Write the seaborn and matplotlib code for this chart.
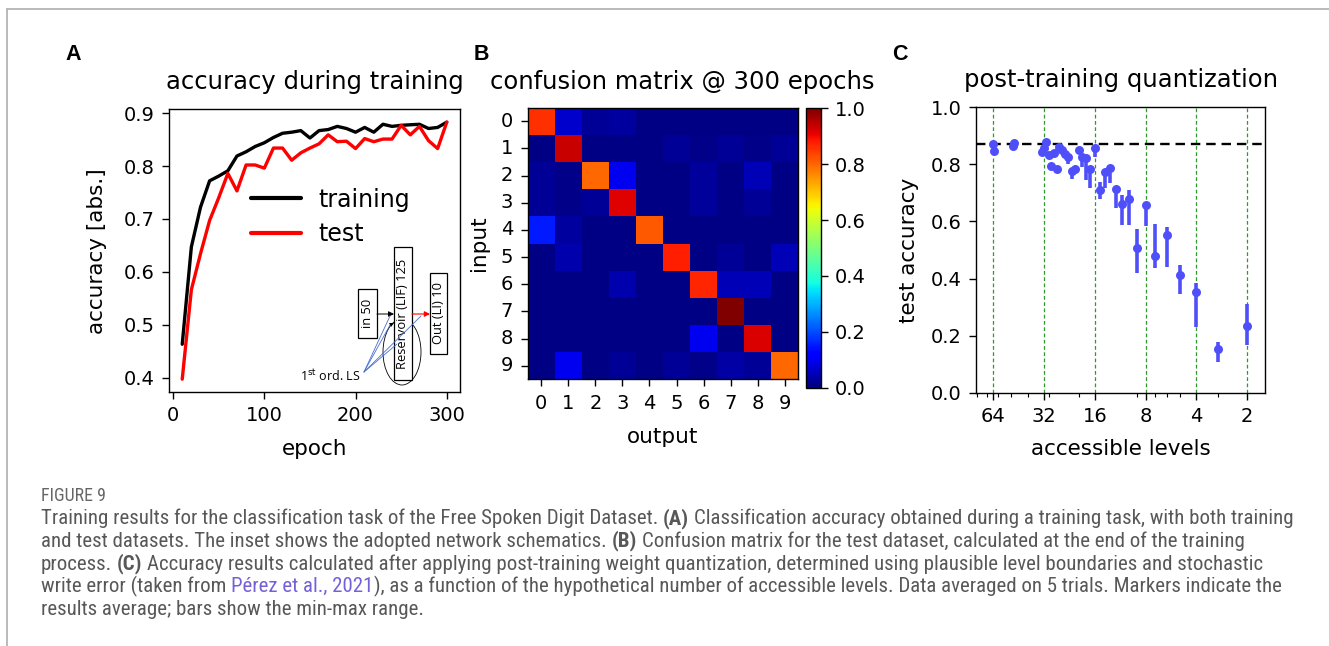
import numpy as np
import pandas as pd
import matplotlib
matplotlib.use("Agg")
import matplotlib.pyplot as plt
import seaborn as sns
from matplotlib import font_manager
from matplotlib.patches import Rectangle, Ellipse, FancyArrowPatch
from matplotlib.lines import Line2D
from matplotlib.ticker import NullFormatter

# ---------------- data ----------------
epochs = list(range(10, 301, 10))
acc_train = [0.463, 0.647, 0.722, 0.772, 0.781, 0.791, 0.819, 0.827, 0.837, 0.844,
             0.854, 0.862, 0.864, 0.867, 0.853, 0.867, 0.869, 0.875, 0.871, 0.864,
             0.873, 0.864, 0.879, 0.875, 0.877, 0.878, 0.879, 0.871, 0.873, 0.883]
acc_test = [0.397, 0.566, 0.634, 0.697, 0.740, 0.786, 0.753, 0.802, 0.802, 0.796,
            0.834, 0.834, 0.811, 0.825, 0.834, 0.842, 0.859, 0.846, 0.847, 0.833,
            0.852, 0.846, 0.851, 0.851, 0.877, 0.859, 0.875, 0.848, 0.833, 0.883]
series_names = ["training", "test"]

digits = list(range(10))
cm_row0 = [0.856, 0.070, 0.020, 0.030, 0.004, 0.004, 0.004, 0.004, 0.004, 0.004]
cm_row1 = [0.004, 0.934, 0.004, 0.004, 0.004, 0.020, 0.010, 0.020, 0.010, 0.020]
cm_row2 = [0.020, 0.010, 0.800, 0.100, 0.004, 0.004, 0.025, 0.004, 0.050, 0.004]
cm_row3 = [0.020, 0.010, 0.020, 0.916, 0.004, 0.004, 0.025, 0.004, 0.020, 0.004]
cm_row4 = [0.150, 0.030, 0.004, 0.004, 0.815, 0.004, 0.004, 0.004, 0.004, 0.004]
cm_row5 = [0.004, 0.040, 0.004, 0.004, 0.004, 0.878, 0.004, 0.020, 0.004, 0.050]
cm_row6 = [0.004, 0.004, 0.004, 0.040, 0.004, 0.004, 0.870, 0.050, 0.050, 0.004]
cm_row7 = [0.004, 0.004, 0.004, 0.004, 0.004, 0.004, 0.004, 1.000, 0.004, 0.004]
cm_row8 = [0.004, 0.004, 0.004, 0.004, 0.004, 0.004, 0.100, 0.004, 0.920, 0.004]
cm_row9 = [0.004, 0.100, 0.004, 0.020, 0.004, 0.020, 0.010, 0.035, 0.020, 0.800]

levels = [64, 63, 49, 48, 33, 32, 31, 30, 29, 28, 27, 26, 25, 24, 23, 22, 21, 20,
          19, 18, 17, 16, 15, 14, 13, 12, 11, 10, 9, 8, 7, 6, 5, 4, 3, 2]
q_mean = [0.872, 0.847, 0.865, 0.875, 0.845, 0.858, 0.877, 0.833, 0.795, 0.840,
          0.783, 0.860, 0.850, 0.838, 0.825, 0.778, 0.783, 0.850, 0.826, 0.821,
          0.783, 0.856, 0.710, 0.772, 0.786, 0.713, 0.661, 0.680, 0.506, 0.658,
          0.479, 0.553, 0.412, 0.353, 0.154, 0.234]
q_lo = [0.865, 0.840, 0.860, 0.870, 0.835, 0.850, 0.870, 0.825, 0.785, 0.830,
        0.775, 0.850, 0.840, 0.825, 0.800, 0.750, 0.775, 0.840, 0.792, 0.746,
        0.716, 0.827, 0.680, 0.716, 0.734, 0.646, 0.588, 0.588, 0.418, 0.583,
        0.436, 0.439, 0.346, 0.229, 0.109, 0.166]
q_hi = [0.878, 0.855, 0.870, 0.880, 0.850, 0.865, 0.885, 0.840, 0.800, 0.845,
        0.790, 0.865, 0.855, 0.845, 0.835, 0.785, 0.790, 0.858, 0.833, 0.830,
        0.790, 0.862, 0.740, 0.780, 0.795, 0.720, 0.693, 0.710, 0.572, 0.665,
        0.590, 0.579, 0.447, 0.383, 0.176, 0.310]
baseline_acc = 0.87
level_ticks = [64, 32, 16, 8, 4, 2]

caption_head = "FIGURE 9"
caption_lines = [
    [("Training results for the classification task of the Free Spoken Digit Dataset.", "n", False),
     ("(A)", "b", True),
     ("Classification accuracy obtained during a training task, with both training", "n", True)],
    [("and test datasets. The inset shows the adopted network schematics.", "n", False),
     ("(B)", "b", True),
     ("Confusion matrix for the test dataset, calculated at the end of the training", "n", True)],
    [("process.", "n", False), ("(C)", "b", True),
     ("Accuracy results calculated after applying post-training weight quantization, determined using plausible level boundaries and stochastic", "n", True)],
    [("write error (taken from", "n", False), ("Pérez et al., 2021", "l", True),
     ("), as a function of the hypothetical number of accessible levels. Data averaged on 5 trials. Markers indicate the", "n", False)],
    [("results average; bars show the min-max range.", "n", False)],
]

# ---------------- style ----------------
W, H = 1329, 646
sns.set_theme(style="ticks")
plt.rcParams["font.family"] = ["DejaVu Sans"]
plt.rcParams.update({
    "axes.edgecolor": "black", "axes.linewidth": 1.0,
    "text.color": "black", "axes.labelcolor": "black",
    "xtick.color": "black", "ytick.color": "black",
    "xtick.major.size": 5, "ytick.major.size": 5,
    "xtick.minor.size": 3, "ytick.minor.size": 3,
    "xtick.major.width": 1.0, "ytick.major.width": 1.0,
    "xtick.minor.width": 0.8,
    "xtick.major.pad": 5.0, "ytick.major.pad": 5.5,
    "xtick.labelsize": 14, "ytick.labelsize": 14,
    "axes.facecolor": "white", "figure.facecolor": "white",
})

fig = plt.figure(figsize=(W / 100, H / 100), dpi=100)


def rect(l, t, r, b):
    return [l / W, 1 - b / H, (r - l) / W, (b - t) / H]


TITLE_FS = 17.5
LABEL_FS = 15.5

# ---------------- panel A ----------------
axA = fig.add_axes(rect(169, 109.3, 460, 392))
dfA = pd.DataFrame({
    "epoch": epochs * 2,
    "accuracy": acc_train + acc_test,
    "set": [series_names[0]] * len(epochs) + [series_names[1]] * len(epochs),
})
sns.lineplot(data=dfA, x="epoch", y="accuracy", hue="set", hue_order=series_names,
             palette={"training": "black", "test": "red"}, linewidth=2.4, ax=axA)
handles, labels = axA.get_legend_handles_labels()
axA.legend(handles, labels, loc="center left", frameon=False, fontsize=17,
           bbox_to_anchor=(251 / W, 1 - 217 / H), bbox_transform=fig.transFigure,
           borderpad=0, borderaxespad=0, handlelength=2.1, handletextpad=0.75,
           labelspacing=0.45)
for lh in axA.get_legend().get_lines():
    lh.set_linewidth(3)
axA.set_xticks([0, 100, 200, 300])
axA.set_yticks([0.4, 0.5, 0.6, 0.7, 0.8, 0.9])
axA.set_xlabel("epoch", fontsize=LABEL_FS, labelpad=10.5)
axA.set_ylabel("accuracy [abs.]", fontsize=LABEL_FS, labelpad=12)
axA.set_title("accuracy during training", fontsize=TITLE_FS, pad=14.5)

# ---------------- panel B ----------------
cm = np.array([cm_row0, cm_row1, cm_row2, cm_row3, cm_row4,
               cm_row5, cm_row6, cm_row7, cm_row8, cm_row9])
axB = fig.add_axes(rect(527.7, 107.7, 798.3, 379.3))
cax = fig.add_axes(rect(806, 108.3, 820.7, 387.7))
sns.heatmap(cm, cmap="jet", vmin=0, vmax=1, ax=axB, cbar_ax=cax,
            xticklabels=digits, yticklabels=digits, linewidths=0)
axB.set_position(rect(527.7, 107.7, 798.3, 379.3))
for s in axB.spines.values():
    s.set_visible(True)
    s.set_linewidth(1.0)
    s.set_color("black")
axB.tick_params(axis="x", length=5, width=1, labelsize=14, pad=5.5)
axB.tick_params(axis="y", length=5, width=1, labelsize=14, pad=5.5)
plt.setp(axB.get_yticklabels(), rotation=0)
plt.setp(axB.get_xticklabels(), rotation=0)
axB.set_xlabel("output", fontsize=LABEL_FS, labelpad=10)
axB.set_ylabel("input", fontsize=LABEL_FS, labelpad=8.5)
axB.set_title("confusion matrix @ 300 epochs", fontsize=TITLE_FS, pad=13.5,
              x=(682 - 527.7) / 270.6)
cbar = axB.collections[0].colorbar
cbar.outline.set_linewidth(1.0)
cbar.outline.set_edgecolor("black")
cbar.set_ticks([0, 0.2, 0.4, 0.6, 0.8, 1.0])
cbar.set_ticklabels(["0.0", "0.2", "0.4", "0.6", "0.8", "1.0"])
cax.tick_params(length=5, width=1, labelsize=14, pad=5)

# ---------------- panel C ----------------
blue = "#4f4ffa"
axC = fig.add_axes(rect(976, 107.3, 1265, 392.7))
axC.set_xscale("log")
for v in level_ticks:
    axC.axvline(v, color="#2e9a2e", linestyle=(0, (3, 2)), linewidth=0.9, zorder=1)
axC.axhline(baseline_acc, color="black", linestyle=(0, (4, 2.5)), linewidth=1.7, zorder=1)
axC.vlines(levels, q_lo, q_hi, color=blue, linewidth=2.6, zorder=2)
sns.scatterplot(x=levels, y=q_mean, color=blue, s=42, linewidth=0, ax=axC, zorder=3)
axC.set_xlim(81, 1.57)
axC.set_ylim(0, 1)
axC.set_xticks(level_ticks)
axC.set_xticklabels([str(v) for v in level_ticks])
axC.xaxis.set_minor_formatter(NullFormatter())
axC.set_yticks([0.0, 0.2, 0.4, 0.6, 0.8, 1.0])
axC.set_yticklabels(["0.0", "0.2", "0.4", "0.6", "0.8", "1.0"])
axC.set_xlabel("accessible levels", fontsize=LABEL_FS, labelpad=10)
axC.set_ylabel("test accuracy", fontsize=LABEL_FS, labelpad=8)
axC.set_title("post-training quantization", fontsize=TITLE_FS, pad=14.5)

# ---------------- overlay: inset schematic, labels, borders ----------------
ov = fig.add_axes([0, 0, 1, 1], zorder=10)
ov.set_xlim(0, W)
ov.set_ylim(H, 0)
ov.axis("off")

gray_border = "#b4b4b4"
ov.add_line(Line2D([7, W], [9, 9], color=gray_border, lw=1.3))
ov.add_line(Line2D([7, 7], [9, H], color=gray_border, lw=1.3))

for letter, x in [("A", 73), ("B", 481), ("C", 900)]:
    ov.text(x, 55, letter, ha="center", va="center", fontsize=15.5,
            fontweight="bold", family=["Liberation Sans", "DejaVu Sans"])

ins_font = ["Open Sans", "DejaVu Sans"]
ov.add_patch(Ellipse((402, 352), 38, 66, fill=False, edgecolor="black", lw=0.6, zorder=1))
ov.add_patch(Rectangle((358, 289), 19, 49, facecolor="white", edgecolor="black", lw=0.9, zorder=2))
ov.add_patch(Rectangle((394, 247), 18, 133, facecolor="white", edgecolor="black", lw=0.9, zorder=2))
ov.add_patch(Rectangle((430, 273), 17, 81, facecolor="white", edgecolor="black", lw=0.9, zorder=2))
ov.text(367.5, 313.5, "in 50", rotation=90, ha="center", va="center", fontsize=9.3, family=ins_font, zorder=3)
ov.text(403, 313.5, "Reservoir (LIF) 125", rotation=90, ha="center", va="center", fontsize=9.3, family=ins_font, zorder=3)
ov.text(438.5, 313.5, "Out (LI) 10", rotation=90, ha="center", va="center", fontsize=9.3, family=ins_font, zorder=3)
ov.add_patch(FancyArrowPatch((377, 314), (394, 314), arrowstyle="-|>", mutation_scale=8,
                             color="black", lw=0.7, zorder=4, shrinkA=0, shrinkB=0))
ov.add_patch(FancyArrowPatch((386, 327), (394, 323), arrowstyle="-|>", mutation_scale=8,
                             color="black", lw=0.0, zorder=4, shrinkA=0, shrinkB=0))
ov.add_patch(FancyArrowPatch((412, 314), (430, 314), arrowstyle="-|>", mutation_scale=8,
                             color="red", lw=0.8, zorder=4, shrinkA=0, shrinkB=0))
for ex, ey in [(390, 316), (390, 325), (397, 344), (421, 316)]:
    ov.add_line(Line2D([364, ex], [372, ey], color="#4a6fd0", lw=0.6, zorder=5))
ov.text(300, 381, r"1$^{\rm st}$ ord. LS", ha="left", va="baseline", fontsize=9,
        family=ins_font, zorder=5)

# ---------------- caption ----------------
names = {f.name for f in font_manager.fontManager.ttflist}
cap_font = "Open Sans"
for cand in ["Liberation Sans Narrow", "Roboto Condensed", "Open Sans Condensed", "Roboto"]:
    if cand in names:
        cap_font = cand
        break
cap_color = "#585858"
link_color = "#7560d8"
renderer = fig.canvas.get_renderer()


def text_w(txt, size, weight="normal"):
    t = fig.text(0, 0, txt, fontsize=size, fontweight=weight, family=[cap_font, "DejaVu Sans"])
    w = t.get_window_extent(renderer=renderer).width
    t.remove()
    return w


def line_width(segs, size):
    sp = text_w("a a", size) - text_w("aa", size)
    tot = 0
    for txt, sty, sp_before in segs:
        if sp_before:
            tot += sp
        tot += text_w(txt, size, "bold" if sty == "b" else "normal")
    return tot


x0 = 41
target = 1288 - x0
base = 10.0
cap_fs = base * target / line_width(caption_lines[0], base)
space_w = text_w("a a", cap_fs) - text_w("aa", cap_fs)
baselines = [524, 546.75, 569.5, 592.25, 615]
for segs, yb in zip(caption_lines, baselines):
    x = x0
    for txt, sty, sp_before in segs:
        if sp_before:
            x += space_w
        col = link_color if sty == "l" else cap_color
        wgt = "bold" if sty == "b" else "normal"
        t = fig.text(x / W, 1 - yb / H, txt, ha="left", va="baseline", fontsize=cap_fs,
                     fontweight=wgt, color=col, family=[cap_font, "DejaVu Sans"])
        x += t.get_window_extent(renderer=renderer).width

head_fs = 9.0 * 65 / text_w(caption_head, 9.0)
fig.text(x0 / W, 1 - 501 / H, caption_head, ha="left", va="baseline", fontsize=head_fs,
         color="#666666", family=[cap_font, "DejaVu Sans"])

fig.savefig("out.png", dpi=100)
